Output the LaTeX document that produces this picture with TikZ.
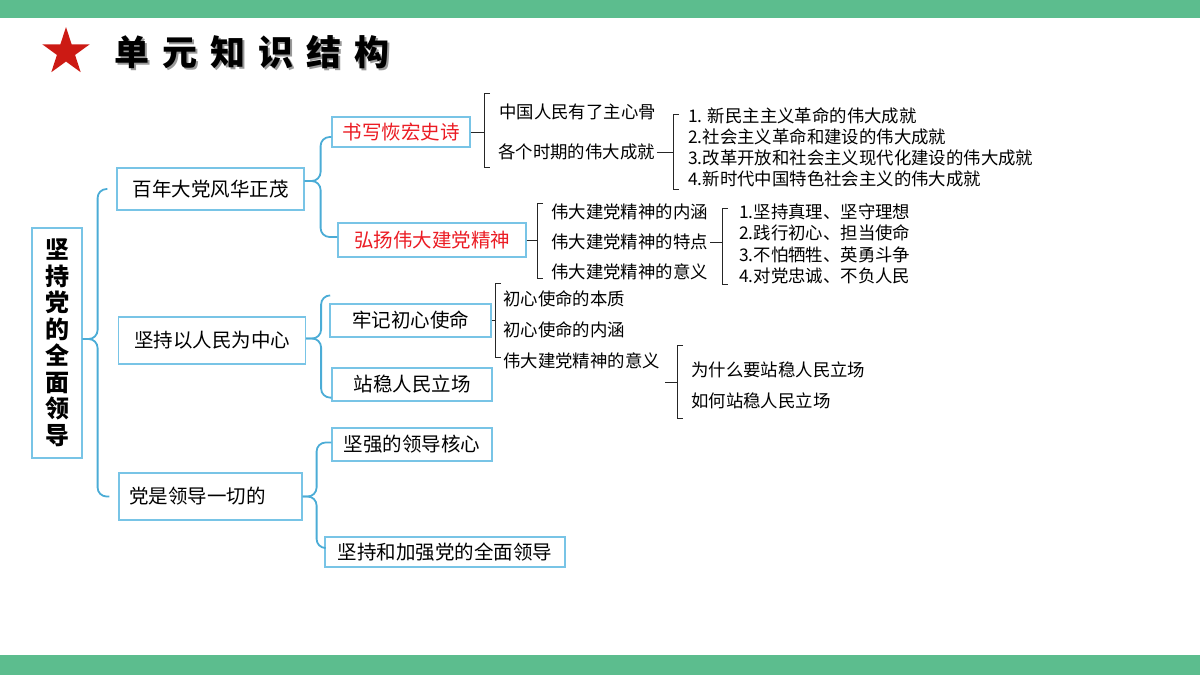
\documentclass[tikz,border=0pt]{standalone}
\usepackage{fontspec}
\setmainfont{Noto Sans CJK SC}
\usetikzlibrary{shapes.geometric,calc}
\definecolor{barg}{RGB}{92,189,142}
\definecolor{bline}{RGB}{75,172,214}
\definecolor{bbox}{RGB}{120,196,230}
\definecolor{starred}{RGB}{204,26,20}
\definecolor{redtxt}{RGB}{235,28,36}
\begin{document}
\begin{tikzpicture}[x=1pt,y=-1pt,
 box/.style={draw=bbox,line width=1.2pt,inner sep=0pt,font=\fontsize{19.5}{23}\selectfont},
 lbl/.style={anchor=west,inner sep=2pt,font=\fontsize{17.4}{20}\selectfont},
 item/.style={anchor=west,inner sep=0pt,font=\fontsize{17.4}{20}\selectfont},
 bbrace/.style={draw=bline,line width=1.8pt,rounded corners=9pt},
 bk/.style={draw=black!85,line width=1pt},
 ttl/.style={anchor=west,inner sep=0pt,font=\fontsize{35}{40}\selectfont\bfseries}]
\useasboundingbox (0,0) rectangle (1200,675);
\fill[barg] (0,0) rectangle (1200,18);
\fill[barg] (0,655) rectangle (1200,675);
% title
\node[star,star points=5,star point ratio=2.618,fill=starred,minimum size=50pt,inner sep=0pt] (star) at (66,52) {};
\node[ttl,text=black!40] (tshadow) at (116.5,54.5) {单\hspace{13pt}元\hspace{13pt}知\hspace{13pt}识\hspace{13pt}结\hspace{13pt}构};
\node[ttl,text=black] (title) at (114,52) {单\hspace{13pt}元\hspace{13pt}知\hspace{13pt}识\hspace{13pt}结\hspace{13pt}构};
% root
\node[box,minimum width=50pt,minimum height=230pt,font=\fontsize{24}{26.5}\selectfont\bfseries,align=center] (root) at (57,343) {坚\\持\\党\\的\\全\\面\\领\\导};
% level 1
\node[box,minimum width=187pt,minimum height=42pt] (bn) at (210.5,189) {百年大党风华正茂};
\node[box,minimum width=187pt,minimum height=47pt] (jc) at (212,340.5) {坚持以人民为中心};
\node[box,minimum height=47pt,text width=183pt,align=left] (ds) at (210.5,496.5) {\hspace*{10pt}党是领导一切的};
% level 2
\node[box,minimum width=138pt,minimum height=30pt,text=redtxt] (sx) at (401,132) {书写恢宏史诗};
\node[box,minimum width=188pt,minimum height=34pt,text=redtxt] (hy) at (432,240) {弘扬伟大建党精神};
\node[box,minimum width=161pt,minimum height=33pt] (lj) at (410.5,320.5) {牢记初心使命};
\node[box,minimum width=160pt,minimum height=33pt] (zw) at (412,384.5) {站稳人民立场};
\node[box,minimum width=160pt,minimum height=33pt] (jq) at (412,444.5) {坚强的领导核心};
\node[box,minimum width=240pt,minimum height=30pt] (jh) at (445,552) {坚持和加强党的全面领导};
% labels
\node[lbl] (zg) at (497,112) {中国人民有了主心骨};
\node[lbl] (gg) at (496,152) {各个时期的伟大成就};
\node[item] (a1) at (688,116) {1. 新民主主义革命的伟大成就};
\node[item] (a2) at (688,137) {2.社会主义革命和建设的伟大成就};
\node[item] (a3) at (688,158) {3.改革开放和社会主义现代化建设的伟大成就};
\node[item] (a4) at (688,179) {4.新时代中国特色社会主义的伟大成就};
\node[lbl] (nh) at (549,212) {伟大建党精神的内涵};
\node[lbl] (td) at (549,242) {伟大建党精神的特点};
\node[lbl] (yy) at (549,272) {伟大建党精神的意义};
\node[item] (b1) at (739,212) {1.坚持真理、坚守理想};
\node[item] (b2) at (739,233) {2.践行初心、担当使命};
\node[item] (b3) at (739,255) {3.不怕牺牲、英勇斗争};
\node[item] (b4) at (739,276) {4.对党忠诚、不负人民};
\node[lbl] (bz) at (501,299) {初心使命的本质};
\node[lbl] (nh2) at (501,330) {初心使命的内涵};
\node[lbl] (yy2) at (501,361) {伟大建党精神的意义};
\node[lbl] (wsm) at (689,370) {为什么要站稳人民立场};
\node[lbl] (rh) at (689,401) {如何站稳人民立场};
% blue braces
\draw[bbrace] ([xshift=-9pt]bn.west) -| ($(root.east)+(15,-4)$) -- ($(root.east)+(0,-4)$);
\draw[bbrace] ([xshift=-9pt]ds.west) -| ($(root.east)+(15,-4)$) -- ($(root.east)+(0,-4)$);
\draw[bbrace] ($(sx.west)+(0,5)$) -| ($(bn.east)+(16,-8)$) -- ($(bn.east)+(0,-8)$);
\draw[bbrace] ($(hy.west)+(0,-3)$) -| ($(bn.east)+(16,-8)$) -- ($(bn.east)+(0,-8)$);
\draw[bbrace] ($(lj.north west)+(0,-8)$) -| ($(jc.east)+(15,-2)$) -- ($(jc.east)+(0,-2)$);
\draw[bbrace] ($(zw.south west)+(0,-4)$) -| ($(jc.east)+(15,-2)$) -- ($(jc.east)+(0,-2)$);
\draw[bbrace] ($(jq.west)+(0,-2)$) -| ($(ds.east)+(14,0)$) -- (ds.east);
\draw[bbrace] ($(jh.west)+(0,-4)$) -| ($(ds.east)+(14,0)$) -- (ds.east);
% black brackets
\coordinate (k1t) at (484,93);  \coordinate (k1b) at (484,167);
\coordinate (k2t) at (673,114); \coordinate (k2b) at (673,189);
\coordinate (k3t) at (537,203); \coordinate (k3b) at (537,278);
\coordinate (k4t) at (722,208); \coordinate (k4b) at (722,284);
\coordinate (k5t) at (495,283); \coordinate (k5b) at (495,357);
\coordinate (k6t) at (677,345); \coordinate (k6b) at (677,418);
\coordinate (t6) at (665,382);
\foreach \k in {k1,k2,k3,k4,k5,k6}{
  \draw[bk] ($(\k t)+(6,0)$) -- (\k t) -- (\k b) -- ($(\k b)+(6,0)$);
}
\draw[bk] (sx.east) -- (sx.east -| k1t);
\draw[bk] (gg.east) -- (gg.east -| k2t);
\draw[bk] (hy.east) -- (hy.east -| k3t);
\draw[bk] (td.east) -- (td.east -| k4t);
\draw[bk] (lj.east) -- (lj.east -| k5t);
\draw[bk] (t6) -- (t6 -| k6t);
\end{tikzpicture}
\end{document}
